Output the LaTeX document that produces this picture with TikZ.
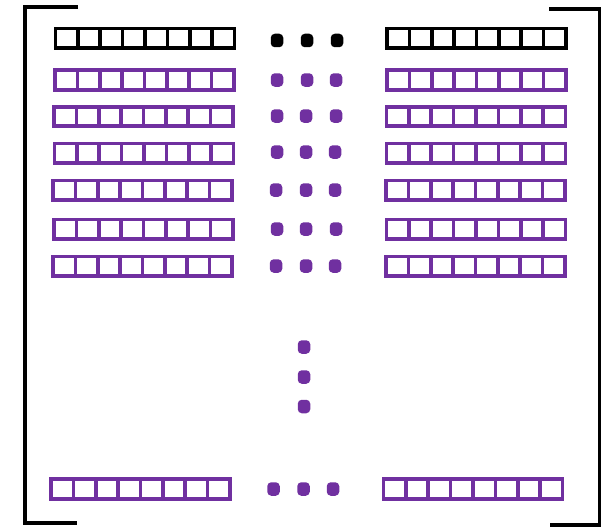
\documentclass[tikz,border=0pt]{standalone}
\usetikzlibrary{calc}
\definecolor{vpurple}{HTML}{7030A0}
\tikzset{
  strip/.style={rectangle, draw=#1, line width=3.7pt, minimum width=179pt, minimum height=19.6pt, inner sep=0pt, outer sep=0pt},
  cellline/.style={draw=#1, line width=3.7pt},
  dotmark/.style={rectangle, fill=#1, rounded corners=4pt, minimum width=12.5pt, minimum height=13.5pt, inner sep=0pt, outer sep=0pt},
  bracket/.style={draw=black, line width=3.4pt, line join=miter}
}
\newcommand{\cellstrip}[4]{%
  \node[strip=#4] (#1) at (#2,#3) {};
  \foreach \k in {1,...,7}
    \draw[cellline=#4] ($(#1.north west)!\k/8!(#1.north east)$) -- ($(#1.south west)!\k/8!(#1.south east)$);
}
\begin{document}
\begin{tikzpicture}[x=1pt,y=-1pt]
\useasboundingbox (0,0) rectangle (602,527);
% brackets
\coordinate (lt) at (78,7); \coordinate (ltc) at (25,7);
\coordinate (lbc) at (25,523); \coordinate (lb) at (77,523);
\draw[bracket] (lt) -- (ltc) -- (lbc) -- (lb);
\coordinate (rt) at (549,9); \coordinate (rtc) at (599.3,9);
\coordinate (rbc) at (599.3,525); \coordinate (rb) at (550,525);
\draw[bracket] (rt) -- (rtc) -- (rbc) -- (rb);
% rows
\cellstrip{L1}{145}{38.3}{black}
\cellstrip{R1}{476.5}{38.3}{black}
\cellstrip{L2}{144.5}{80}{vpurple}
\cellstrip{R2}{476.5}{80}{vpurple}
\cellstrip{L3}{143.5}{116.5}{vpurple}
\cellstrip{R3}{476}{116.5}{vpurple}
\cellstrip{L4}{144}{153.3}{vpurple}
\cellstrip{R4}{476}{153.3}{vpurple}
\cellstrip{L5}{142.5}{190.3}{vpurple}
\cellstrip{R5}{475.5}{190.3}{vpurple}
\cellstrip{L6}{143.5}{229.3}{vpurple}
\cellstrip{R6}{476}{229.3}{vpurple}
\cellstrip{L7}{142.5}{266.3}{vpurple}
\cellstrip{R7}{475.5}{266.3}{vpurple}
\cellstrip{L8}{140.5}{489}{vpurple}
\cellstrip{R8}{473}{489}{vpurple}
% horizontal dots
\node[dotmark=black] (d1a) at (277,40.5) {};
\node[dotmark=black] (d1b) at (307,40.5) {};
\node[dotmark=black] (d1c) at (337,40.5) {};
\node[dotmark=vpurple] (d2a) at (277,80) {};
\node[dotmark=vpurple] (d2b) at (307,80) {};
\node[dotmark=vpurple] (d2c) at (336,80) {};
\node[dotmark=vpurple] (d3a) at (277,116) {};
\node[dotmark=vpurple] (d3b) at (306,116) {};
\node[dotmark=vpurple] (d3c) at (336,116) {};
\node[dotmark=vpurple] (d4a) at (277,152) {};
\node[dotmark=vpurple] (d4b) at (306,152) {};
\node[dotmark=vpurple] (d4c) at (335,152) {};
\node[dotmark=vpurple] (d5a) at (276,190) {};
\node[dotmark=vpurple] (d5b) at (306,190) {};
\node[dotmark=vpurple] (d5c) at (335,190) {};
\node[dotmark=vpurple] (d6a) at (277,229) {};
\node[dotmark=vpurple] (d6b) at (306,229) {};
\node[dotmark=vpurple] (d6c) at (336,229) {};
\node[dotmark=vpurple] (d7a) at (276,266) {};
\node[dotmark=vpurple] (d7b) at (306,266) {};
\node[dotmark=vpurple] (d7c) at (335,266) {};
% vertical dots
\node[dotmark=vpurple] (v1) at (304,347) {};
\node[dotmark=vpurple] (v2) at (304,377) {};
\node[dotmark=vpurple] (v3) at (304,406.5) {};
% bottom dots
\node[dotmark=vpurple] (d8a) at (273.5,489) {};
\node[dotmark=vpurple] (d8b) at (303.5,489) {};
\node[dotmark=vpurple] (d8c) at (333,489) {};
\end{tikzpicture}
\end{document}
